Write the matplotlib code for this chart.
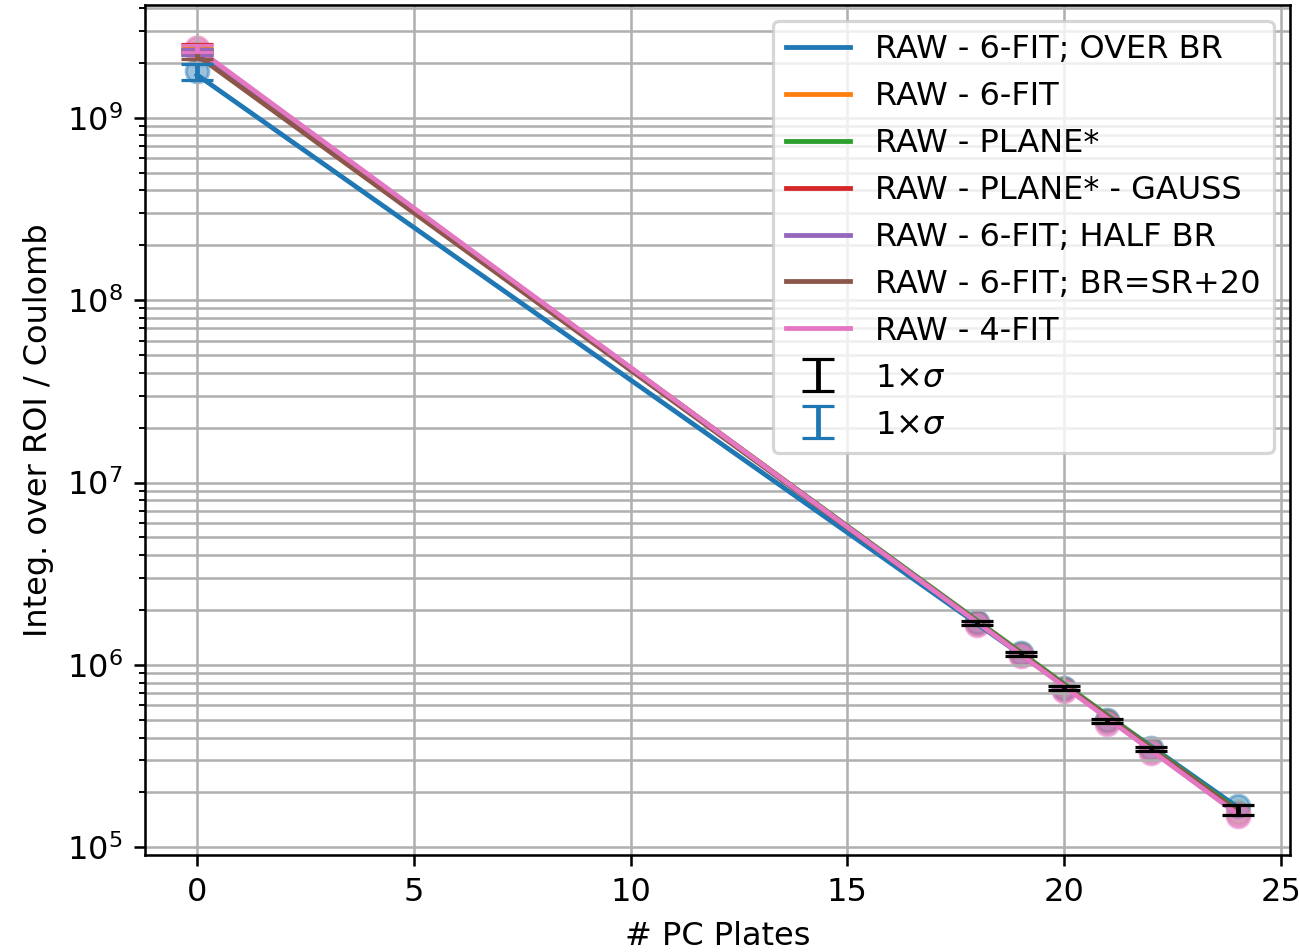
import matplotlib
matplotlib.use("Agg")
import matplotlib.pyplot as plt
import numpy as np

labels = ["RAW - 6-FIT; OVER BR", "RAW - 6-FIT", "RAW - PLANE*", "RAW - PLANE* - GAUSS",
          "RAW - 6-FIT; HALF BR", "RAW - 6-FIT; BR=SR+20", "RAW - 4-FIT"]
colors = ["tab:blue", "tab:orange", "tab:green", "tab:red", "tab:purple", "tab:brown", "tab:pink"]

# measurement positions
x_pts = [0, 18, 19, 20, 21, 22, 24]
# per-series points (integral / Coulomb)
pts = [
    [1.80e9, 1.72e6, 1.16e6, 7.5e5, 5.0e5, 3.5e5, 1.68e5],
    [2.35e9, 1.70e6, 1.15e6, 7.4e5, 4.9e5, 3.4e5, 1.55e5],
    [2.30e9, 1.70e6, 1.15e6, 7.4e5, 4.9e5, 3.4e5, 1.58e5],
    [2.45e9, 1.69e6, 1.14e6, 7.4e5, 4.9e5, 3.4e5, 1.52e5],
    [2.30e9, 1.70e6, 1.15e6, 7.4e5, 4.9e5, 3.4e5, 1.55e5],
    [2.20e9, 1.70e6, 1.15e6, 7.4e5, 4.9e5, 3.4e5, 1.55e5],
    [2.40e9, 1.66e6, 1.12e6, 7.2e5, 4.75e5, 3.3e5, 1.48e5],
]
marker_alpha = [0.45, 0.08, 0.08, 0.08, 0.08, 0.08, 0.55]
# error at x = 0 for each series (relative)
err0_rel = [0.10, 0.04, 0.04, 0.04, 0.04, 0.04, 0.04]

# fit line endpoints (x=0, x=24)
fit_x = [0, 24]
fit_y = [
    [1.72e9, 1.66e5],
    [2.30e9, 1.56e5],
    [2.28e9, 1.60e5],
    [2.35e9, 1.55e5],
    [2.30e9, 1.56e5],
    [2.20e9, 1.58e5],
    [2.40e9, 1.52e5],
]

# measured values with 1 sigma (black)
x_meas = [18, 19, 20, 21, 22, 24]
y_meas = [1.70e6, 1.15e6, 7.45e5, 4.95e5, 3.45e5, 1.60e5]
yerr_rel = [0.025, 0.025, 0.025, 0.025, 0.025, 0.06]

DPI = 230
fig = plt.figure(figsize=(1300 / DPI, 952 / DPI), dpi=DPI)
ax = fig.add_axes([0.1115, 0.102, 0.8805, 0.8927])

for lab, c, fy in zip(labels, colors, fit_y):
    ax.plot(fit_x, fy, color=c, label=lab)

for c, p, a in zip(colors, pts, marker_alpha):
    ax.scatter(x_pts, p, color=c, alpha=a, s=50, zorder=1.5)

# colored error bars at x=0 (unlabelled except blue)
for i in range(1, 7):
    e = pts[i][0] * err0_rel[i]
    ax.errorbar([x_pts[0]], [pts[i][0]], yerr=[[e], [e]],
                fmt="none", ecolor=colors[i], capsize=5, label="_nolegend_")

ym = np.array(y_meas)
ye = ym * np.array(yerr_rel)
ax.errorbar(x_meas, y_meas, yerr=ye, fmt="none", ecolor="black", capsize=5, label=r"$1{\times}\sigma$")
e0 = pts[0][0] * err0_rel[0]
ax.errorbar([x_pts[0]], [pts[0][0]], yerr=[[e0], [e0]],
            fmt="none", ecolor="tab:blue", capsize=5, label=r"$1{\times}\sigma$")

ax.set_yscale("log")
ax.grid(which="both")
ax.set_xlabel("# PC Plates")
ax.set_ylabel("Integ. over ROI / Coulomb")
ax.legend(loc="upper right")

fig.savefig("out.png", dpi=DPI)
